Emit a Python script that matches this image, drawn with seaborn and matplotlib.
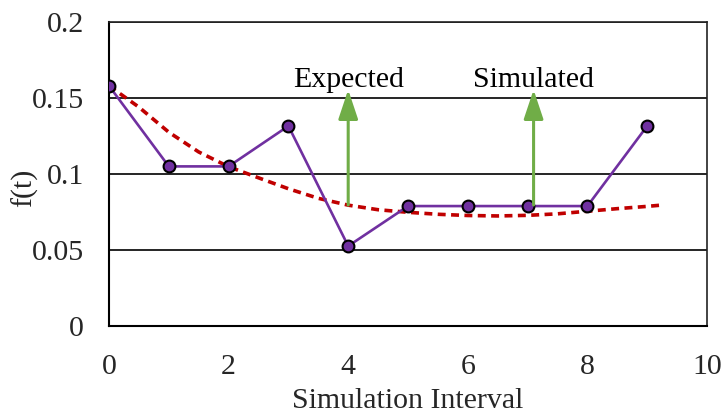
import matplotlib
matplotlib.use("Agg")
import matplotlib.pyplot as plt
import seaborn as sns
import pandas as pd

# Data
interval = [0, 1, 2, 3, 4, 5, 6, 7, 8, 9]
simulated = [0.158, 0.105, 0.105, 0.1316, 0.0526, 0.0789, 0.0789, 0.0789, 0.0789, 0.1316]

trend_x = [0, 0.5, 1, 1.5, 2, 2.5, 3, 3.5, 4, 4.5, 5, 5.5, 6, 6.5, 7, 7.5, 8, 8.5, 9, 9.2]
trend_y = [0.158, 0.144, 0.1275, 0.1145, 0.1048, 0.0975, 0.0903, 0.0840, 0.0795, 0.0765,
           0.0748, 0.0735, 0.0727, 0.0724, 0.0728, 0.0738, 0.0755, 0.0772, 0.0787, 0.0794]

arrow_x = [4.0, 7.1]
arrow_y0 = [0.0796, 0.0796]
arrow_y1 = [0.1555, 0.1555]
arrow_labels = ["Expected", "Simulated"]

sns.set_style("white")
plt.rcParams['font.family'] = ['Liberation Serif', 'DejaVu Serif']

FS = 21.5

fig = plt.figure(figsize=(7.26, 4.2), dpi=100)
ax = fig.add_axes([109 / 726, 1 - 326 / 420, 598 / 726, 304 / 420])

df_sim = pd.DataFrame({"x": interval, "y": simulated})
df_tr = pd.DataFrame({"x": trend_x, "y": trend_y})

sns.lineplot(data=df_tr, x="x", y="y", ax=ax, color="#C00000", lw=2.6,
             linestyle=(0, (2.2, 1.5)), zorder=3)
sns.lineplot(data=df_sim, x="x", y="y", ax=ax, color="#7030A0", lw=1.9,
             marker="o", markersize=8.5, markerfacecolor="#7030A0",
             markeredgecolor="black", markeredgewidth=1.5, zorder=4)

for x, y0, y1, lab in zip(arrow_x, arrow_y0, arrow_y1, arrow_labels):
    ax.annotate("", xy=(x, y1), xytext=(x, y0),
                arrowprops=dict(arrowstyle="-|>,head_width=0.6,head_length=1.8",
                                mutation_scale=10,
                                color="#70AD47", lw=2.2, shrinkA=0, shrinkB=0), zorder=5)
    ax.text(x, y1 + 0.0015, lab, ha="center", va="baseline", fontsize=FS, color="black")

ax.set_xlim(0, 10)
ax.set_ylim(0, 0.2)
ax.set_xticks([0, 2, 4, 6, 8, 10])
ax.set_yticks([0, 0.05, 0.1, 0.15, 0.2])
ax.set_yticklabels(["0", "0.05", "0.1", "0.15", "0.2"])
ax.tick_params(axis="y", labelsize=FS, length=0, pad=18)
ax.tick_params(axis="x", labelsize=FS, length=0, pad=20)
ax.grid(axis="y", color="black", lw=1.2)
ax.set_axisbelow(True)
for s in ["top", "right"]:
    ax.spines[s].set_color("#222222")
    ax.spines[s].set_linewidth(1.2)
for s in ["left", "bottom"]:
    ax.spines[s].set_color("black")
    ax.spines[s].set_linewidth(1.5)

ax.set_xlabel("Simulation Interval", fontsize=FS)
ax.set_ylabel("f(t)", fontsize=FS)
ax.xaxis.set_label_coords(0.5, -0.205)
ax.yaxis.set_label_coords(-0.118, 0.455)

fig.savefig("out.png", dpi=100)
